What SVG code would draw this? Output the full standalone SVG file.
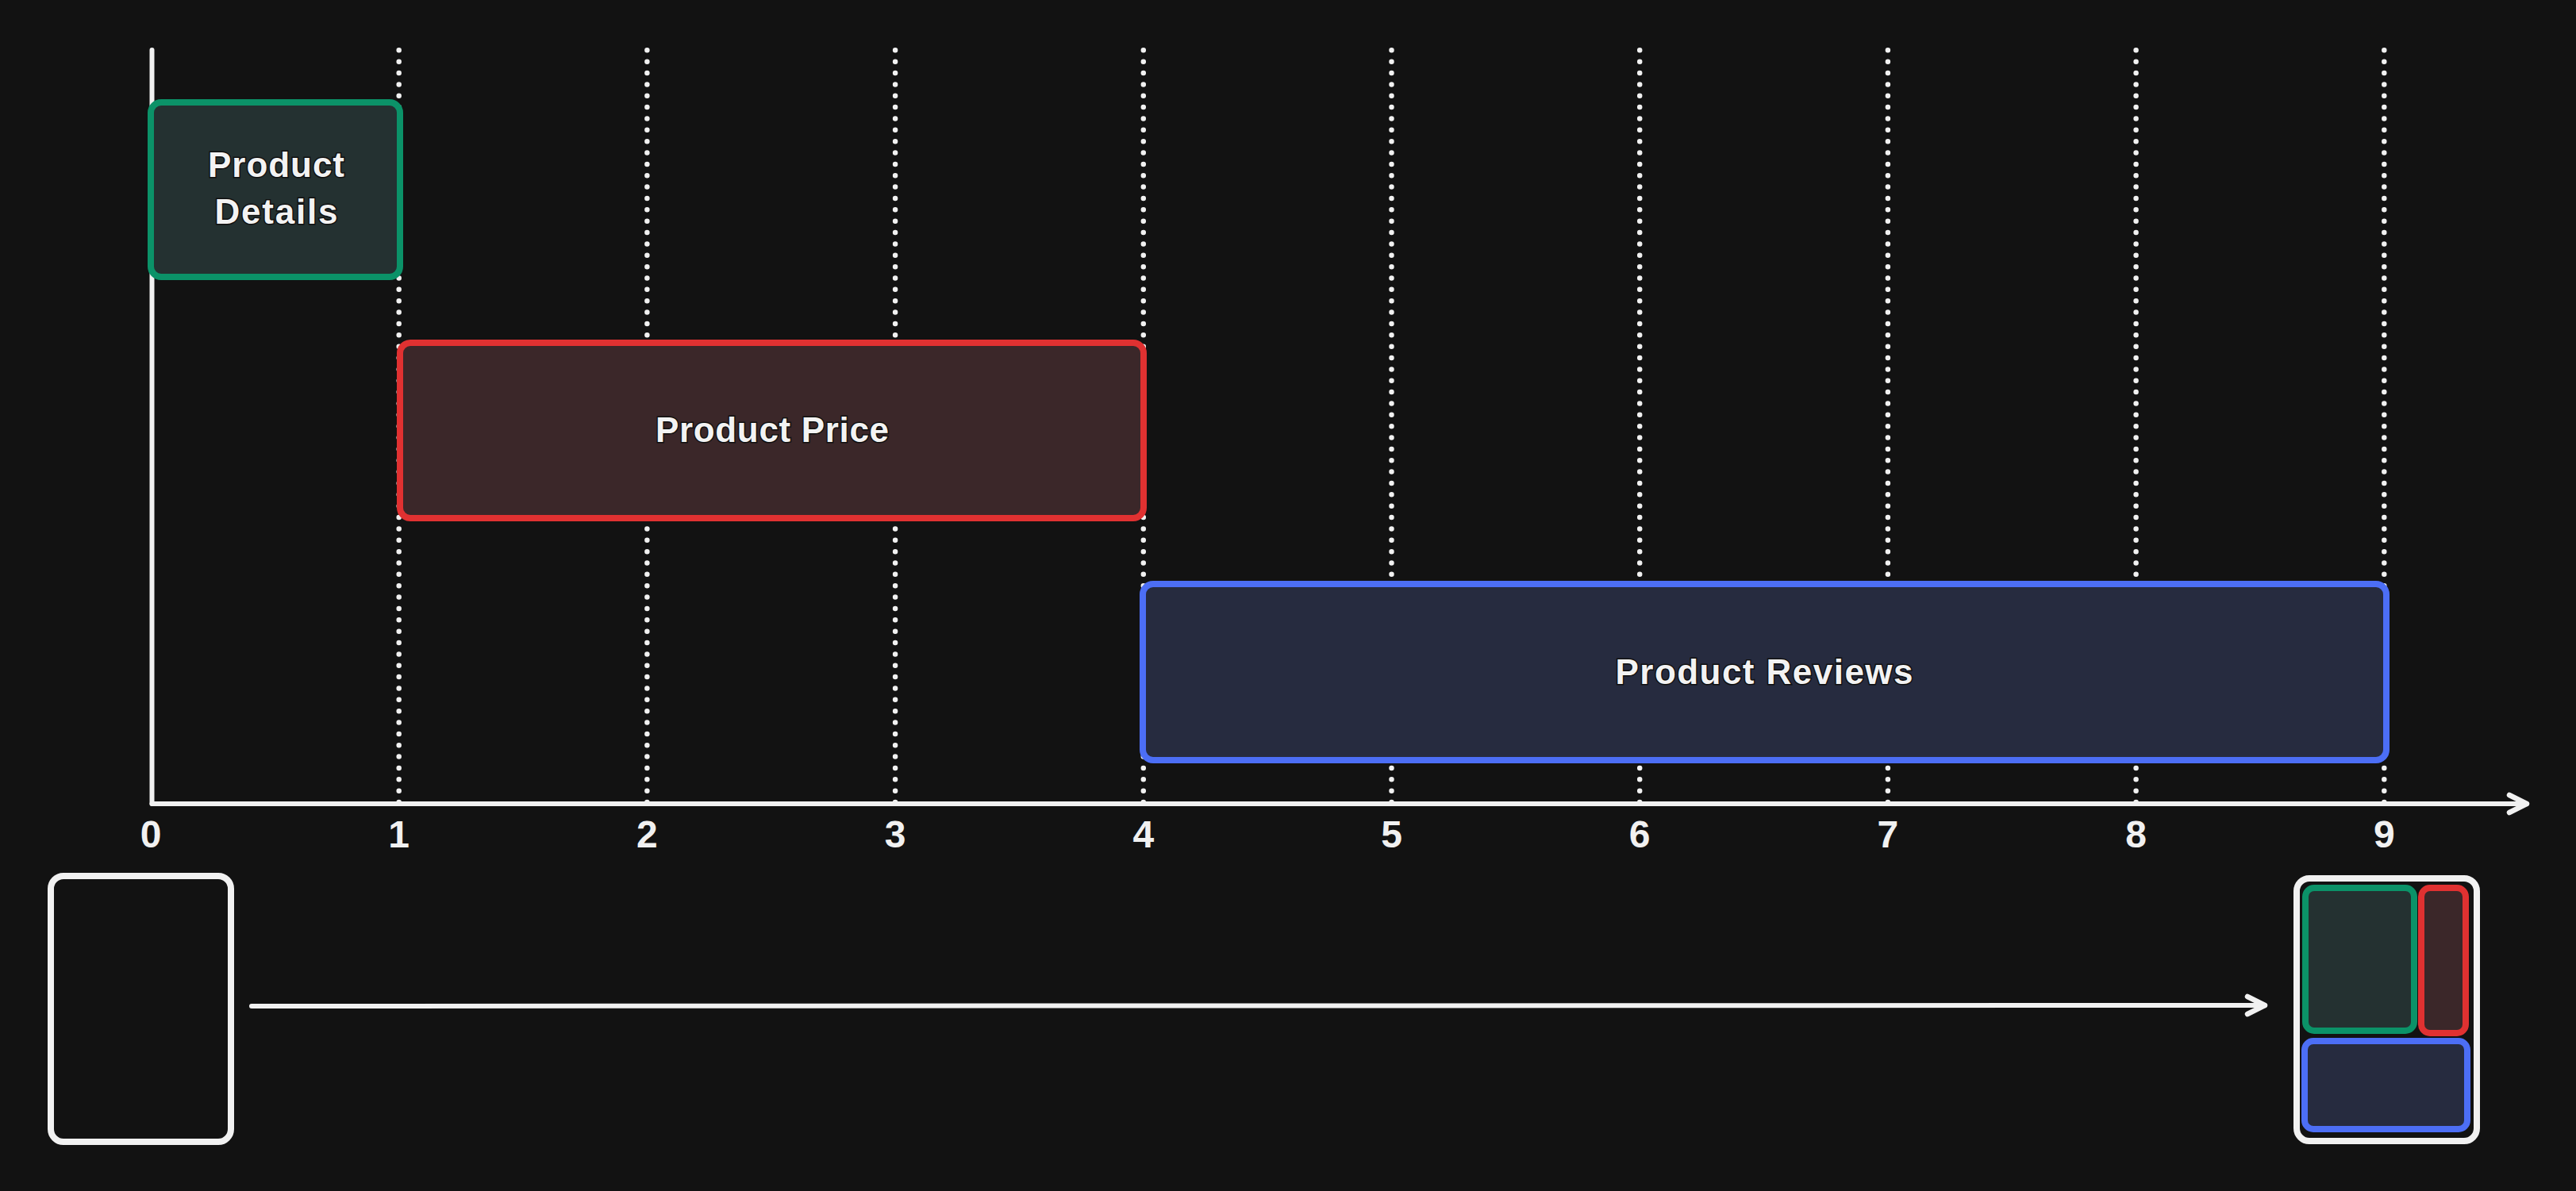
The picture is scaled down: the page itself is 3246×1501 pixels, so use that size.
<svg xmlns="http://www.w3.org/2000/svg" width="3246" height="1501" viewBox="0 0 3246 1501">
  <style>
    .bg { fill: #121212; }
    .axis { stroke: #f1f1f1; stroke-width: 6; stroke-linecap: round; fill: none; }
    .dots { stroke: #f1f1f1; stroke-width: 6.5; stroke-linecap: round; stroke-dasharray: 0 14.36; fill: none; }
    .tick { fill: #f1f1f1; font-family: "Liberation Sans", "DejaVu Sans", sans-serif; font-size: 48px; font-weight: bold; text-anchor: middle; }
    .label { fill: #f3f3f3; font-family: "Liberation Sans", "DejaVu Sans", sans-serif; font-size: 44px; font-weight: bold; text-anchor: middle; stroke: #101010; stroke-width: 3; paint-order: stroke; }
    .green { fill: #243131; stroke: #0b9268; stroke-width: 8; }
    .red { fill: #3b2729; stroke: #e03131; stroke-width: 8; }
    .blue { fill: #262b3f; stroke: #4c6ef5; stroke-width: 8; }
    .phone { fill: #121212; stroke: #f1f1f1; stroke-width: 8; }
    .conn { stroke: #f1f1f1; stroke-width: 6; stroke-linecap: round; fill: none; }
  </style>
  <defs>
    <marker id="chev" markerUnits="userSpaceOnUse" viewBox="-30 -16 36 32" markerWidth="36" markerHeight="32" refX="0" refY="0" orient="auto" overflow="visible">
      <path d="M -22 -11 L 0 0 L -22 11" fill="none" stroke="#f1f1f1" stroke-width="6.5" stroke-linecap="round" stroke-linejoin="round"/>
    </marker>
  </defs>
  <rect class="bg" x="0" y="0" width="3246" height="1501"/>

  <g id="grid">
    <line class="dots" x1="502.7" y1="63.3" x2="502.7" y2="1013"/>
    <line class="dots" x1="815.4" y1="63.3" x2="815.4" y2="1013"/>
    <line class="dots" x1="1128.1" y1="63.3" x2="1128.1" y2="1013"/>
    <line class="dots" x1="1440.8" y1="63.3" x2="1440.8" y2="1013"/>
    <line class="dots" x1="1753.5" y1="63.3" x2="1753.5" y2="1013"/>
    <line class="dots" x1="2066.2" y1="63.3" x2="2066.2" y2="1013"/>
    <line class="dots" x1="2378.9" y1="63.3" x2="2378.9" y2="1013"/>
    <line class="dots" x1="2691.6" y1="63.3" x2="2691.6" y2="1013"/>
    <line class="dots" x1="3004.3" y1="63.3" x2="3004.3" y2="1013"/>
  </g>

  <g id="axes">
    <line class="axis" x1="191.5" y1="63" x2="191.5" y2="1013"/>
    <line class="axis" x1="191.5" y1="1013" x2="3184" y2="1013" marker-end="url(#chev)"/>
  </g>

  <g id="ticks">
    <text class="tick" x="190" y="1068">0</text>
    <text class="tick" x="502.7" y="1068">1</text>
    <text class="tick" x="815.4" y="1068">2</text>
    <text class="tick" x="1128.1" y="1068">3</text>
    <text class="tick" x="1440.8" y="1068">4</text>
    <text class="tick" x="1753.5" y="1068">5</text>
    <text class="tick" x="2066.2" y="1068">6</text>
    <text class="tick" x="2378.9" y="1068">7</text>
    <text class="tick" x="2691.6" y="1068">8</text>
    <text class="tick" x="3004.3" y="1068">9</text>
  </g>

  <g id="product-details">
    <rect class="green" x="190" y="129" width="314" height="220" rx="13"/>
    <text class="label" x="348" y="223" textLength="172">Product</text>
    <text class="label" x="348" y="282" textLength="155">Details</text>
  </g>

  <g id="product-price">
    <rect class="red" x="504" y="432" width="937" height="221" rx="13"/>
    <text class="label" x="973" y="557" textLength="294">Product Price</text>
  </g>

  <g id="product-reviews">
    <rect class="blue" x="1440" y="736" width="1567" height="222" rx="13"/>
    <text class="label" x="2223" y="862" textLength="375">Product Reviews</text>
  </g>

  <g id="phone-before">
    <rect class="phone" x="64" y="1104" width="227" height="335" rx="16"/>
  </g>

  <g id="phone-after">
    <rect class="phone" x="2894" y="1107" width="227" height="331" rx="16"/>
    <rect class="green" x="2905" y="1119" width="137" height="180" rx="11"/>
    <rect class="red" x="3051" y="1119" width="56" height="183" rx="11"/>
    <rect class="blue" x="2904" y="1312" width="205" height="111" rx="11"/>
  </g>

  <g id="connectors">
    <line class="conn" x1="317" y1="1268" x2="2854" y2="1267" marker-end="url(#chev)"/>
  </g>
</svg>
